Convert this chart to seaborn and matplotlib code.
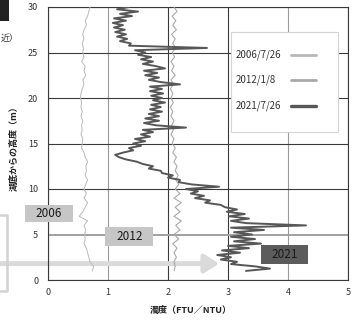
import matplotlib
matplotlib.use("Agg")
import matplotlib.pyplot as plt
from matplotlib.patches import Rectangle
from matplotlib.lines import Line2D
import seaborn as sns
import pandas as pd

# ---------------- data ----------------
depth_2021 = [30.0, 29.75, 29.5, 29.25, 29.0, 28.75, 28.5, 28.25, 28.0, 27.75, 27.5, 27.25, 27.0,
              26.75, 26.5, 26.25, 26.0, 25.75, 25.5, 25.25, 25.0, 24.75, 24.5, 24.25, 24.0,
              23.75, 23.5, 23.25, 23.0, 22.75, 22.5, 22.25, 22.0, 21.75, 21.5, 21.25, 21.0,
              20.75, 20.5, 20.25, 20.0, 19.75, 19.5, 19.25, 19.0, 18.75, 18.5, 18.25, 18.0,
              17.75, 17.5, 17.25, 17.0, 16.75, 16.5, 16.25, 16.0, 15.75, 15.5, 15.25, 15.0,
              14.75, 14.5, 14.25, 14.0, 13.75, 13.5, 13.25, 13.0, 12.75, 12.5, 12.25, 12.0,
              11.75, 11.5, 11.25, 11.0, 10.75, 10.5, 10.25, 10.0, 9.75, 9.5, 9.25, 9.0,
              8.75, 8.5, 8.25, 8.0, 7.75, 7.5, 7.25, 7.0, 6.75, 6.5, 6.25, 6.0,
              5.75, 5.5, 5.25, 5.0, 4.75, 4.5, 4.25, 4.0, 3.75, 3.5, 3.25, 3.0,
              2.75, 2.5, 2.25, 2.0, 1.75, 1.5, 1.25, 1.0]
turb_2021 = [1.35, 1.15, 1.5, 1.2, 1.4,
             1.1, 1.3, 1.08, 1.25, 1.1, 1.28, 1.12, 1.3,
             1.15, 1.32, 1.2, 1.38,
             1.35, 2.65, 1.45, 1.62,
             1.5, 1.72, 1.55, 1.75,
             1.58, 1.8, 1.95, 1.6,
             1.82, 1.62, 1.85, 1.68,
             1.88, 2.2, 1.7, 1.9,
             1.7, 1.92, 1.72, 1.9,
             1.75, 1.95, 1.72, 1.88,
             1.7, 1.9, 1.68, 1.85,
             1.62, 1.85, 1.6, 1.8,
             2.3, 1.58, 1.75, 1.55,
             1.7, 1.45, 1.62, 1.42,
             1.55, 1.35, 1.42, 1.25,
             1.12, 1.18, 1.3, 1.48,
             1.58, 1.75, 1.68, 1.88,
             1.9, 2.08, 2.0, 2.2,
             2.18, 2.4, 2.85, 2.3,
             2.5, 2.38, 2.6, 2.45,
             2.7, 2.62, 2.88, 2.95,
             3.15, 2.98, 3.28, 3.02,
             3.35, 3.05, 3.3, 4.3,
             3.05, 3.6, 3.1, 3.4,
             3.05, 3.45, 3.1, 3.55,
             3.0, 3.35, 2.9, 3.2,
             2.82, 3.05, 2.88, 3.15,
             3.05, 3.45, 3.7, 3.3]

depth_old = [30.0, 29.5, 29.0, 28.5, 28.0, 27.5, 27.0, 26.5, 26.0, 25.5,
             25.0, 24.5, 24.0, 23.5, 23.0, 22.5, 22.0, 21.5, 21.0, 20.5,
             20.0, 19.5, 19.0, 18.5, 18.0, 17.5, 17.0, 16.5, 16.0, 15.5,
             15.0, 14.5, 14.0, 13.5, 13.0, 12.5, 12.0, 11.5, 11.0, 10.5,
             10.0, 9.5, 9.0, 8.5, 8.0, 7.5, 7.0, 6.5, 6.0, 5.5,
             5.0, 4.5, 4.0, 3.5, 3.0, 2.5, 2.0, 1.5, 1.0]
turb_2006 = [0.70, 0.68, 0.66, 0.62, 0.64, 0.60, 0.58, 0.60, 0.57, 0.59,
             0.58, 0.60, 0.56, 0.62, 0.60, 0.63, 0.58, 0.60, 0.57, 0.55,
             0.54, 0.56, 0.55, 0.57, 0.55, 0.58, 0.56, 0.57, 0.55, 0.58,
             0.57, 0.56, 0.60, 0.62, 0.66, 0.63, 0.64, 0.62, 0.66, 0.63,
             0.60, 0.64, 0.60, 0.66, 0.62, 0.58, 0.52, 0.66, 0.60, 0.63,
             0.61, 0.62, 0.60, 0.64, 0.66, 0.68, 0.70, 0.76, 0.74]
turb_2012 = [2.10, 2.15, 2.07, 2.13, 2.08, 2.14, 2.06, 2.12, 2.08, 2.13,
             2.07, 2.11, 2.05, 2.10, 2.06, 2.12, 2.05, 2.09, 2.04, 2.08,
             2.05, 2.09, 2.04, 2.08, 2.05, 2.10, 2.06, 2.09, 2.05, 2.10,
             2.07, 2.12, 2.08, 2.14, 2.10, 2.15, 2.12, 2.17, 2.13, 2.18,
             2.12, 2.20, 2.10, 2.22, 2.12, 2.20, 2.10, 2.22, 2.13, 2.20,
             2.10, 2.18, 2.08, 2.15, 2.10, 2.14, 2.10, 2.12, 2.10]

series_labels = ["2006/7/26", "2012/1/8", "2021/7/26"]
box_labels = ["2006", "2012", "2021"]
x_ticks = [0, 1, 2, 3, 4, 5]
y_ticks = [0, 5, 10, 15, 20, 25, 30]

# ---------------- style ----------------
sns.set_style("white")
plt.rcParams['font.family'] = ['Noto Sans CJK JP', 'DejaVu Sans']

W, H = 358, 322
fig = plt.figure(figsize=(W / 100, H / 100), dpi=100)
ax = fig.add_axes([48 / W, 1 - 280 / H, 300 / W, 273 / H])

c06, c12, c21 = "#b9b9b9", "#a9a9a9", "#575757"
colors = [c06, c12, c21]

df06 = pd.DataFrame({"turb": turb_2006, "depth": depth_old})
df12 = pd.DataFrame({"turb": turb_2012, "depth": depth_old})
df21 = pd.DataFrame({"turb": turb_2021, "depth": depth_2021})

sns.lineplot(data=df06, x="turb", y="depth", sort=False, estimator=None,
             color=c06, lw=0.7, ax=ax, zorder=3)
sns.lineplot(data=df12, x="turb", y="depth", sort=False, estimator=None,
             color=c12, lw=0.8, ax=ax, zorder=3)
sns.lineplot(data=df21, x="turb", y="depth", sort=False, estimator=None,
             color=c21, lw=1.4, ax=ax, zorder=4)

ax.set_xlim(0, 5)
ax.set_ylim(0, 30)
ax.set_xticks(x_ticks)
ax.set_yticks(y_ticks)
ax.set_xticklabels([str(t) for t in x_ticks])
ax.set_yticklabels([str(t) for t in y_ticks])
ax.tick_params(axis='both', length=0, labelsize=6.5, labelcolor="#333333")
ax.tick_params(axis='y', pad=7)
ax.tick_params(axis='x', pad=6)

ax.grid(True, color="#3a3a3a", lw=0.8)
ax.set_axisbelow(True)
xg = ax.get_xgridlines()
yg = ax.get_ygridlines()
for i in (1, 4):
    xg[i].set_color("#9a9a9a")
yg[1].set_color("#a0a0a0")
yg[1].set_linewidth(1.4)
for s in ax.spines.values():
    s.set_color("#3a3a3a")
    s.set_linewidth(0.8)

ax.set_xlabel("濁度（FTU／NTU）", fontsize=6.5, color="#222222", fontweight="bold")
ax.set_ylabel("湖底からの高度（m）", fontsize=6.5, color="#222222", fontweight="bold")
ax.xaxis.set_label_coords((191 - 48) / 300, -(306 - 280) / 273)
ax.xaxis.label.set_va("top")
ax.yaxis.set_label_coords(-(48 - 19) / 300, 0.49)

# legend: frame + entries (text left-aligned, line sample on the right)
ax.add_patch(Rectangle(((231 - 48) / 300, (280 - 132) / 273), 107 / 300, 100 / 273,
                       transform=ax.transAxes, fc="white", ec="#d4d4d4", lw=0.8, zorder=5))
row_y = [(280 - 55) / 273, (280 - 80) / 273, (280 - 106) / 273]
lws = [2.0, 2.0, 2.4]
for lab, col, yy, lw in zip(series_labels, colors, row_y, lws):
    ax.text((236 - 48) / 300, yy, lab, transform=ax.transAxes, fontsize=7,
            color="#333333", ha="left", va="center", zorder=6)
    ax.add_line(Line2D([(291 - 48) / 300, (316 - 48) / 300], [yy, yy],
                       transform=ax.transAxes, color=col, lw=lw, zorder=6))

# annotation boxes
boxes = [(-0.383, 6.37, 0.80, 1.87, "#c6c6c6", 0.017, 7.3),
         (0.95, 3.74, 0.80, 2.08, "#c6c6c6", 1.37, 4.78),
         (3.55, 1.76, 0.78, 2.09, "#5c5c5c", 3.94, 2.8)]
for (bx, by, bw, bh, fc, tx, ty), lab in zip(boxes, box_labels):
    ax.add_patch(Rectangle((bx, by), bw, bh, fc=fc, ec="none", clip_on=False, zorder=6))
    ax.text(tx, ty, lab, ha="center", va="center", fontsize=8.5,
            color="#1a1a1a", zorder=7, clip_on=False)

ax.annotate("", xy=(2.85, 1.8), xytext=(-0.85, 1.8),
            arrowprops=dict(arrowstyle="-|>,head_length=0.7,head_width=0.45",
                            lw=3.5, color="#dadada", mutation_scale=12,
                            shrinkA=0, shrinkB=0),
            annotation_clip=False, zorder=2)

# cropped decorations from the surrounding page
fig.add_artist(Rectangle((0, 1 - 21 / H), 9 / W, 21 / H, transform=fig.transFigure,
                         fc="#222222", ec="none"))
fig.text(1 / W, 1 - 38 / H, "近）", fontsize=6.5, color="#333333", va="center", ha="left")
fig.add_artist(Line2D([0, 7 / W, 7 / W, 0], [1 - 215 / H, 1 - 215 / H, 1 - 291 / H, 1 - 291 / H],
                      transform=fig.transFigure, color="#d2d2d2", lw=1.8))

fig.savefig("out.png", dpi=100)
